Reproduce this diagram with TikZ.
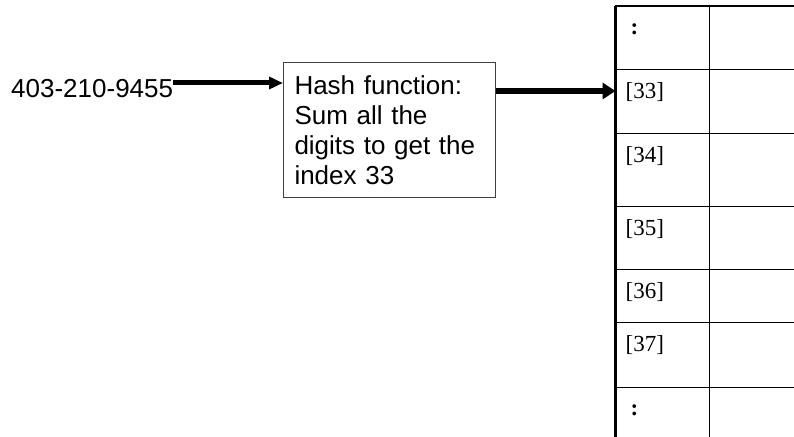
\documentclass[tikz,border=0pt]{standalone}
\usepackage{fontspec}
\setmainfont{Liberation Serif}
\newfontfamily\arialish{Liberation Sans}
\usetikzlibrary{arrows.meta}

\begin{document}
\begin{tikzpicture}[x=1pt,y=1pt,
  sans/.style={font=\arialish\fontsize{26}{30}\selectfont},
  keycell/.style={draw=black, line width=1pt, rectangle, inner sep=0pt, outer sep=0pt,
                  minimum width=94pt, anchor=north west},
  valcell/.style={draw=black, line width=1pt, rectangle, inner sep=0pt, outer sep=0pt,
                  minimum width=90pt, anchor=north west},
  idx/.style={font=\fontsize{23}{26}\selectfont, inner sep=0pt, anchor=base west},
  dots/.style={font=\bfseries\fontsize{23}{26}\selectfont, inner sep=0pt, anchor=base},
  fat/.style={line width=5pt, -{Triangle[length=14pt,width=12pt]}},
  fatter/.style={line width=6.5pt, -{Triangle[length=13pt,width=16pt]}}
]
\useasboundingbox (0,0) rectangle (794,436);
\clip (0,0) rectangle (794,436);

% input key and hash box
\node[sans, inner sep=0pt, anchor=base west] (phone) at (11,338) {403-210-9455};
\node[sans, draw=black!75, line width=1pt, align=left, text width=190pt,
      inner xsep=11pt, inner ysep=13pt, anchor=north west] (hash) at (283,374)
  {Hash function:\\Sum all the\\digits to get the\\index 33};

% table: key column and value column
\node[keycell, minimum height=64pt]   (k0) at (615.5,430)   {};
\node[keycell, minimum height=63.5pt] (k1) at (615.5,366)   {};
\node[keycell, minimum height=73pt]   (k2) at (615.5,302.5) {};
\node[keycell, minimum height=63.5pt] (k3) at (615.5,229.5) {};
\node[keycell, minimum height=53pt]   (k4) at (615.5,166)   {};
\node[keycell, minimum height=64pt]   (k5) at (615.5,113)   {};
\node[keycell, minimum height=70pt]   (k6) at (615.5,49)    {};

\node[valcell, minimum height=64pt]   (v0) at (k0.north east) {};
\node[valcell, minimum height=63.5pt] (v1) at (k1.north east) {};
\node[valcell, minimum height=73pt]   (v2) at (k2.north east) {};
\node[valcell, minimum height=63.5pt] (v3) at (k3.north east) {};
\node[valcell, minimum height=53pt]   (v4) at (k4.north east) {};
\node[valcell, minimum height=64pt]   (v5) at (k5.north east) {};
\node[valcell, minimum height=70pt]   (v6) at (k6.north east) {};

% heavy left and top edges of the table
\draw[line width=3pt] (k0.north west) -- (k6.south west);
\draw[line width=2pt] (k0.north west) -- (v0.north east);

% index labels
\path (k0.north west) ++(19,-29) node[dots] (d0) {:};
\path (k1.north west) ++(10,-29) node[idx] (i33) {[33]};
\path (k2.north west) ++(10,-29) node[idx] (i34) {[34]};
\path (k3.north west) ++(10,-29) node[idx] (i35) {[35]};
\path (k4.north west) ++(10,-29) node[idx] (i36) {[36]};
\path (k5.north west) ++(10,-29) node[idx] (i37) {[37]};
\path (k6.north west) ++(19,-28) node[dots] (d6) {:};

% arrows
\coordinate (lvlA) at (0,353);
\coordinate (lvlB) at (0,345);
\draw[fat] (phone.east |- lvlA) -- (hash.west |- lvlA);
\draw[fatter] (hash.east |- lvlB) -- (k1.west |- lvlB);
\end{tikzpicture}
\end{document}
